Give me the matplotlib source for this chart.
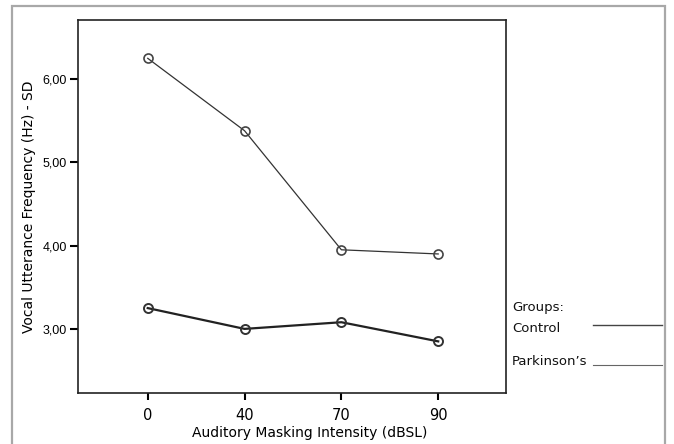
import matplotlib
matplotlib.use("Agg")
import matplotlib.pyplot as plt
from matplotlib.patches import Rectangle
from matplotlib.lines import Line2D

categories = ["0", "40", "70", "90"]
control = [6.25, 5.38, 3.95, 3.90]
parkinsons = [3.25, 3.00, 3.08, 2.85]
yticks = [3.0, 4.0, 5.0, 6.0]
ytick_labels = ["3,00", "4,00", "5,00", "6,00"]

W, H = 674, 444
fig = plt.figure(figsize=(W / 100, H / 100), dpi=100)
fig.patch.set_facecolor("white")

# outer grey frame (bottom edge falls outside the image)
fig.add_artist(Rectangle((12 / W, -0.02), (665 - 12) / W, (H - 6) / H + 0.02,
                         transform=fig.transFigure, fill=False,
                         edgecolor="#a8a8a8", linewidth=1.6))

ax = fig.add_axes([78 / W, (H - 393) / H, (506 - 78) / W, (393 - 20) / H])
x = list(range(len(categories)))

ax.plot(x, control, color="#333333", linewidth=0.9, marker="o", markersize=6.5,
        markerfacecolor="none", markeredgecolor="#444444", markeredgewidth=1.2)
ax.plot(x, parkinsons, color="#222222", linewidth=1.6, marker="o", markersize=6.5,
        markerfacecolor="none", markeredgecolor="#333333", markeredgewidth=1.4)

ax.set_xlim(-0.72, 3.7)
ax.set_ylim(2.23, 6.71)
ax.set_xticks(x)
ax.set_xticklabels(categories, fontfamily="Liberation Sans Narrow", fontsize=10.5)
ax.set_yticks(yticks)
ax.set_yticklabels(ytick_labels, fontfamily="Liberation Sans", fontsize=9)
for s in ax.spines.values():
    s.set_linewidth(1.2)
    s.set_color("#222222")
ax.tick_params(axis="x", length=5, width=1.5, pad=6, direction="out")
ax.tick_params(axis="y", length=6, width=1.5, pad=2, direction="out")

ax.set_xlabel("Auditory Masking Intensity (dBSL)", fontfamily="DejaVu Sans",
              fontsize=10)
ax.xaxis.set_label_coords((310 - 78) / (506 - 78), -(433 - 393) / (393 - 20))
ax.xaxis.label.set_va("center")
ax.set_ylabel("Vocal Utterance Frequency (Hz) - SD", fontfamily="DejaVu Sans",
              fontsize=10, labelpad=5)

# legend-like annotation
fig.text(512 / W, 1 - 307 / H, "Groups:", fontsize=9.5, fontfamily="DejaVu Sans",
         va="center", ha="left", color="#111111")
fig.text(512 / W, 1 - 328 / H, "Control", fontsize=9.5, fontfamily="DejaVu Sans",
         va="center", ha="left", color="#111111")
fig.text(512 / W, 1 - 361 / H, "Parkinson\u2019s", fontsize=9.5, fontfamily="DejaVu Sans",
         va="center", ha="left", color="#111111")
fig.add_artist(Line2D([593 / W, 662 / W], [1 - 325 / H, 1 - 325 / H],
                      transform=fig.transFigure, color="#444444", linewidth=1.0))
fig.add_artist(Line2D([593 / W, 662 / W], [1 - 365 / H, 1 - 365 / H],
                      transform=fig.transFigure, color="#666666", linewidth=0.8))

fig.savefig("out.png", dpi=100)
